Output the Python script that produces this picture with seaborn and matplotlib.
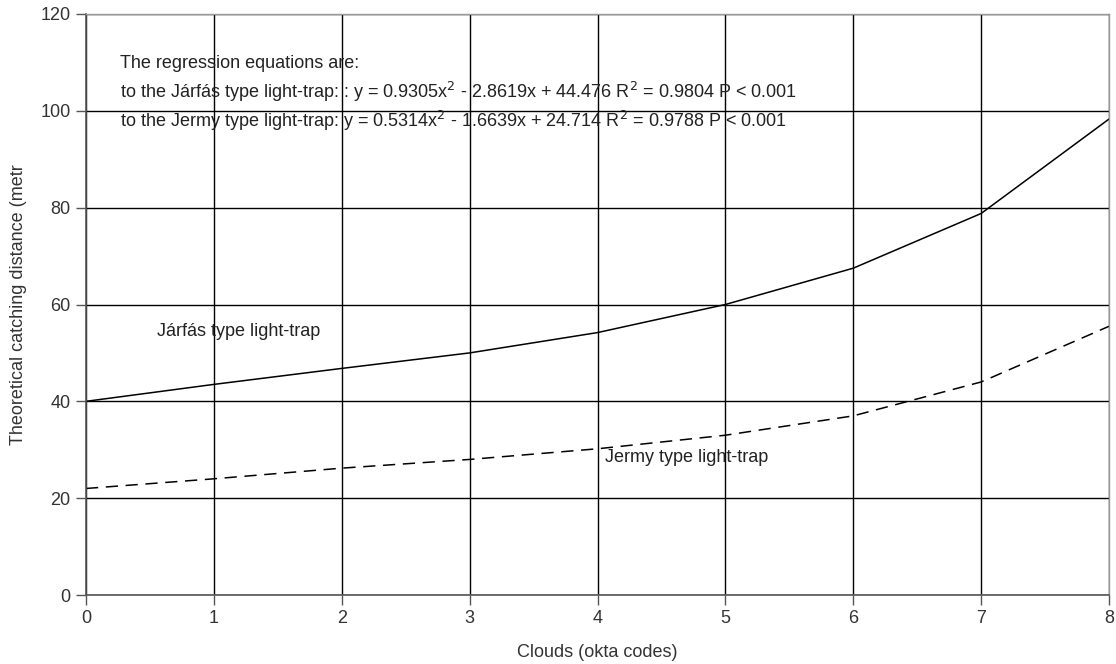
import matplotlib
matplotlib.use("Agg")
import matplotlib.pyplot as plt
import seaborn as sns
import pandas as pd

clouds = [0, 1, 2, 3, 4, 5, 6, 7, 8]
jarfas = [40.0, 43.5, 46.8, 50.0, 54.2, 60.0, 67.5, 78.8, 98.3]
jermy = [22.0, 24.0, 26.2, 28.0, 30.2, 33.0, 37.0, 44.0, 55.5]
x_ticks = [0, 1, 2, 3, 4, 5, 6, 7, 8]
y_ticks = [0, 20, 40, 60, 80, 100, 120]

df = pd.DataFrame({"clouds": clouds, "Járfás": jarfas, "Jermy": jermy})

sns.set_theme(style="white")
plt.rcParams["font.family"] = ["Liberation Sans", "DejaVu Sans"]

FS = 13
fig = plt.figure(figsize=(11.16, 6.64), dpi=100)
ax = fig.add_axes([86/1116, 69/664, (1109-86)/1116, (595-14)/664])

sns.lineplot(data=df, x="clouds", y="Járfás", ax=ax, color="black", lw=1.1)
sns.lineplot(data=df, x="clouds", y="Jermy", ax=ax, color="black", lw=1.1,
             linestyle=(0, (8, 5)))

ax.set_xlim(0, 8)
ax.set_ylim(0, 120)
ax.set_xticks(x_ticks)
ax.set_yticks(y_ticks)
ax.grid(True, color="black", lw=1.0)
ax.set_axisbelow(True)
for s in ["top", "right"]:
    ax.spines[s].set_color("#999999")
    ax.spines[s].set_linewidth(1.0)
for s in ["left", "bottom"]:
    ax.spines[s].set_color("#555555")
    ax.spines[s].set_linewidth(1.2)
ax.tick_params(axis="both", direction="out", length=7, width=1, color="#555555",
               labelsize=FS, labelcolor="#333333", pad=4, bottom=True, left=True)
ax.set_xlabel("Clouds (okta codes)", fontsize=FS, color="#333333", labelpad=12)
ax.set_ylabel("")
fig.text(19/1116, (664-445)/664, "Theoretical catching distance (metr",
         rotation=90, ha="center", va="bottom", fontsize=FS, color="#333333")

tkw = dict(fontsize=FS, color="#222222", va="center", ha="left")
ax.text(0.265, 109.7, "The regression equations are:", **tkw)
ax.text(0.265, 103.9,
        "to the Járfás type light-trap: : y = 0.9305x$^2$ - 2.8619x + 44.476 R$^2$ = 0.9804 P < 0.001", **tkw)
ax.text(0.265, 97.9,
        "to the Jermy type light-trap: y = 0.5314x$^2$ - 1.6639x + 24.714 R$^2$ = 0.9788 P < 0.001", **tkw)
ax.text(0.555, 54.4, "Járfás type light-trap", **tkw)
ax.text(4.06, 28.3, "Jermy type light-trap", **tkw)

fig.savefig("out.png", dpi=100, facecolor="white")
